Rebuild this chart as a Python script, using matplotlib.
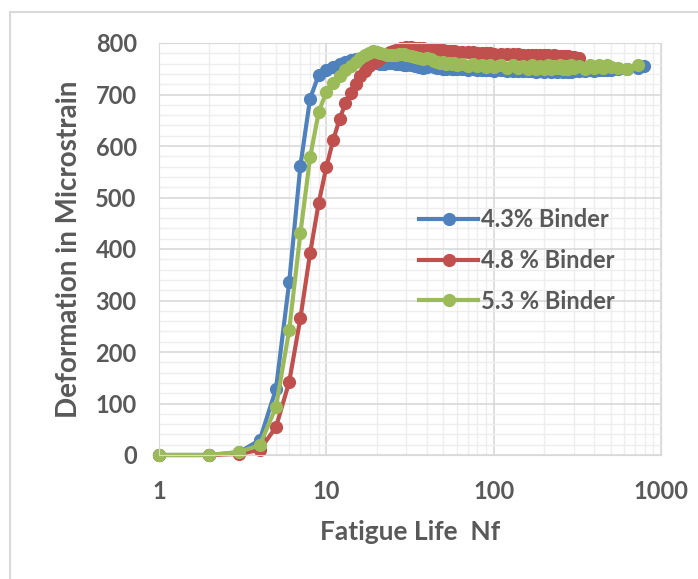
import matplotlib.pyplot as plt
from matplotlib.patches import Rectangle
from matplotlib.ticker import LogLocator, FixedLocator, FuncFormatter, NullFormatter

plt.rcParams['font.family'] = ['Lato', 'DejaVu Sans']

# cycles (fatigue life)
ciclos = [1, 2, 3, 4, 5, 6, 7, 8, 9, 10, 11, 12, 13, 14, 15, 16, 17, 18, 19, 20,
          21, 22, 23, 24, 25, 26, 27, 28, 29, 30,
          32, 34, 36, 38, 40, 42, 44, 46, 48, 50, 52, 54, 56, 58, 60,
          65, 70, 75, 80, 85, 90, 95, 100, 110, 120, 130, 140, 150,
          160, 170, 180, 190, 200, 210, 220, 230, 240, 250, 260, 270, 280, 290, 300, 325,
          350, 375, 400, 425, 450, 475, 500,
          550, 630, 730, 790]

# 4.3 % binder
def_43 = [0, 0, 5, 29, 128, 336, 562, 692, 738, 748, 754, 760, 764, 767, 768, 767, 766, 764, 762, 761,
          760, 760, 761, 762, 761, 760, 760, 759, 758, 758,
          757, 755, 753, 752, 754, 755, 753, 752, 751, 750, 750, 751, 750, 749, 750,
          749, 748, 749, 748, 747, 748, 747, 746, 747, 746, 745, 746, 745,
          746, 745, 744, 745, 744, 745, 744, 745, 744, 745, 744, 745, 744, 744, 745, 745,
          746, 747, 746, 747, 748, 747, 748,
          749, 750, 752, 756]

# 4.8 % binder
def_48 = [0, 0, 2, 10, 54, 142, 266, 392, 489, 559, 612, 652, 683, 703, 720, 735, 745, 755, 761, 766,
          771, 775, 779, 782, 785, 787, 789, 790, 791, 792,
          792, 791, 790, 790, 789, 789, 788, 787, 787, 786, 785, 785, 784, 784, 783,
          783, 782, 782, 781, 781, 780, 780, 779, 779, 778, 778, 778, 777,
          777, 777, 776, 777, 776, 776, 775, 776, 775, 775, 774, 775, 774, 773, 772, 770]

# 5.3 % binder
def_53 = [0, 0, 6, 19, 93, 243, 431, 578, 666, 705, 722, 736, 748, 756, 764, 770, 776, 781, 785, 783,
          780, 778, 777, 776, 776, 777, 778, 779, 778, 777,
          775, 773, 770, 768, 770, 768, 765, 763, 762, 764, 760, 762, 759, 761, 758,
          760, 756, 759, 755, 758, 754, 757, 753, 758, 752, 757, 751, 756,
          750, 757, 749, 756, 750, 757, 749, 755, 751, 758, 749, 756, 750, 757, 751, 756,
          750, 757, 752, 758, 751, 757, 753,
          752, 750, 757]

series = [
    ("4.3% Binder", def_43, "#4F81BD"),
    ("4.8 % Binder", def_48, "#C0504D"),
    ("5.3 % Binder", def_53, "#9BBB59"),
]

gris = "#595959"

fig = plt.figure(figsize=(6.98, 5.79), dpi=100)
# marco gris alrededor del grafico
fig.patches.append(Rectangle((10 / 698, -0.1), 1.2, (579 - 12) / 579 + 0.1,
                             transform=fig.transFigure, fill=False,
                             edgecolor="#D9D9D9", linewidth=1.5))

ax = fig.add_axes([159 / 698, 1 - 455 / 579, (661 - 159) / 698, (455 - 43) / 579])

for nombre, valores, color in series:
    ax.plot(ciclos[:len(valores)], valores, color=color, linewidth=3,
            marker="o", markersize=8.5, label=nombre, clip_on=False)

ax.set_xscale("log")
ax.set_xlim(1, 1000)
ax.set_ylim(0, 800)

ax.xaxis.set_major_locator(FixedLocator([1, 10, 100, 1000]))
ax.xaxis.set_major_formatter(FuncFormatter(lambda v, p: f"{int(v)}"))
ax.xaxis.set_minor_locator(LogLocator(base=10, subs=range(2, 10)))
ax.xaxis.set_minor_formatter(NullFormatter())
ax.set_yticks(range(0, 801, 100))
ax.set_yticks(range(0, 801, 20), minor=True)

ax.grid(which="major", color="#D9D9D9", linewidth=1.2)
ax.grid(which="minor", color="#EEEEEE", linewidth=1.0)
ax.set_axisbelow(True)

for s in ax.spines.values():
    s.set_color("#D9D9D9")

ax.tick_params(which="both", length=0)
ax.tick_params(axis="both", labelsize=17, labelcolor=gris)
ax.tick_params(axis="y", pad=16)
ax.tick_params(axis="x", pad=18)
for lbl in ax.get_xticklabels() + ax.get_yticklabels():
    lbl.set_fontweight("bold")

ax.set_xlabel("Fatigue Life  Nf", fontsize=19, fontweight="bold", color=gris, labelpad=12)
ax.set_ylabel("Deformation in Microstrain", fontsize=20, fontweight="bold", color=gris, labelpad=10)

leg = ax.legend(loc="center left", bbox_to_anchor=(0.476, 0.472), frameon=False,
                fontsize=17, labelspacing=0.75, handlelength=2.5, handletextpad=0.1)
for t in leg.get_texts():
    t.set_color(gris)
    t.set_fontweight("bold")

fig.savefig("out.png", dpi=100)
